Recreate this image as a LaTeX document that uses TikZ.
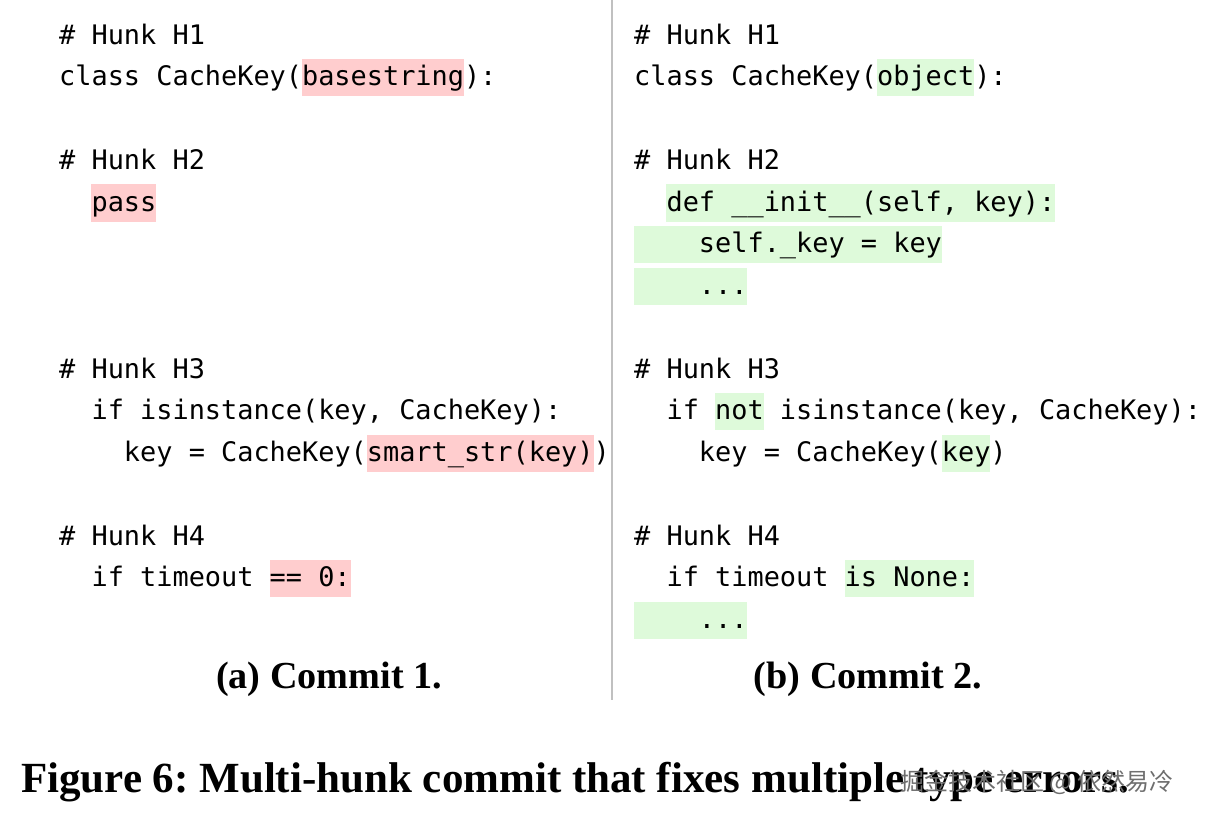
\documentclass[tikz,border=0pt]{standalone}
\usepackage{fontspec}
\setmainfont{Liberation Serif}
\newfontfamily\codefont{DejaVu Sans Mono}
\newfontfamily\cjkfont{Noto Sans CJK SC}
\frenchspacing
\definecolor{delbg}{RGB}{255,205,206}
\definecolor{addbg}{RGB}{222,250,218}
\definecolor{divgray}{RGB}{192,192,192}
\definecolor{wmgray}{RGB}{110,110,110}
\tikzset{
  codeline/.style={anchor=base west, inner sep=0pt, font=\codefont\fontsize{26.9}{30}\selectfont},
  subcap/.style={anchor=base, inner sep=0pt, font=\bfseries\fontsize{38.2}{42}\selectfont},
  figcap/.style={anchor=base west, inner sep=0pt, font=\bfseries\fontsize{43}{48}\selectfont},
  wmark/.style={anchor=base west, inner sep=0pt, text=wmgray, font=\cjkfont\fontsize{24}{28}\selectfont}
}
% pitch of one character, base line of line n
\def\cw{16.2}
\def\LA{59}
\def\RA{634}
\newcommand\hl[5]{% color, column x, line, from char, to char
  \fill[#1] ({#2+#4*\cw},{44+41.75*#3-26.7}) rectangle ({#2+#5*\cw},{44+41.75*#3+10.7});}
\begin{document}
\begin{tikzpicture}[x=1pt,y=-1pt]
\useasboundingbox (0,0) rectangle (1208,820);
\fill[white] (0,0) rectangle (1208,820);
% highlights, commit 1
\hl{delbg}{\LA}{1}{15}{25}
\hl{delbg}{\LA}{4}{2}{6}
\hl{delbg}{\LA}{10}{19}{33}
\hl{delbg}{\LA}{13}{13}{18}
% highlights, commit 2
\hl{addbg}{\RA}{1}{15}{21}
\hl{addbg}{\RA}{4}{2}{26}
\hl{addbg}{\RA}{5}{0}{19}
\hl{addbg}{\RA}{6}{0}{7}
\hl{addbg}{\RA}{9}{5}{8}
\hl{addbg}{\RA}{10}{19}{22}
\hl{addbg}{\RA}{13}{13}{21}
\hl{addbg}{\RA}{14}{0}{7}
% divider
\coordinate (divtop) at (612,0);
\coordinate (divbot) at (612,700);
\draw[divgray, line width=2pt] (divtop) -- (divbot);
% commit 1 code
\node[codeline] (l0)  at (\LA,{44+41.75*0})  {\# Hunk H1};
\node[codeline] (l1)  at (\LA,{44+41.75*1})  {class CacheKey(basestring):};
\node[codeline] (l3)  at (\LA,{44+41.75*3})  {\# Hunk H2};
\node[codeline] (l4)  at (\LA,{44+41.75*4})  {\ \ pass};
\node[codeline] (l8)  at (\LA,{44+41.75*8})  {\# Hunk H3};
\node[codeline] (l9)  at (\LA,{44+41.75*9})  {\ \ if isinstance(key, CacheKey):};
\node[codeline] (l10) at (\LA,{44+41.75*10}) {\ \ \ \ key = CacheKey(smart\_str(key))};
\node[codeline] (l12) at (\LA,{44+41.75*12}) {\# Hunk H4};
\node[codeline] (l13) at (\LA,{44+41.75*13}) {\ \ if timeout == 0:};
% commit 2 code
\node[codeline] (r0)  at (\RA,{44+41.75*0})  {\# Hunk H1};
\node[codeline] (r1)  at (\RA,{44+41.75*1})  {class CacheKey(object):};
\node[codeline] (r3)  at (\RA,{44+41.75*3})  {\# Hunk H2};
\node[codeline] (r4)  at (\RA,{44+41.75*4})  {\ \ def \_\_init\_\_(self, key):};
\node[codeline] (r5)  at (\RA,{44+41.75*5})  {\ \ \ \ self.\_key = key};
\node[codeline] (r6)  at (\RA,{44+41.75*6})  {\ \ \ \ ...};
\node[codeline] (r8)  at (\RA,{44+41.75*8})  {\# Hunk H3};
\node[codeline] (r9)  at (\RA,{44+41.75*9})  {\ \ if not isinstance(key, CacheKey):};
\node[codeline] (r10) at (\RA,{44+41.75*10}) {\ \ \ \ key = CacheKey(key)};
\node[codeline] (r12) at (\RA,{44+41.75*12}) {\# Hunk H4};
\node[codeline] (r13) at (\RA,{44+41.75*13}) {\ \ if timeout is None:};
\node[codeline] (r14) at (\RA,{44+41.75*14}) {\ \ \ \ ...};
% sub-captions
\node[subcap] (capa) at (329,688) {(a) Commit 1.};
\node[subcap] (capb) at (868,688) {(b) Commit 2.};
% figure caption
\node[figcap] (fig) at (21,792) {Figure 6: Multi-hunk commit that fixes multiple type errors.};
% watermark
\node[wmark] (wm) at (900,790) {掘金技术社区 @ 依然易冷};
\end{tikzpicture}
\end{document}
